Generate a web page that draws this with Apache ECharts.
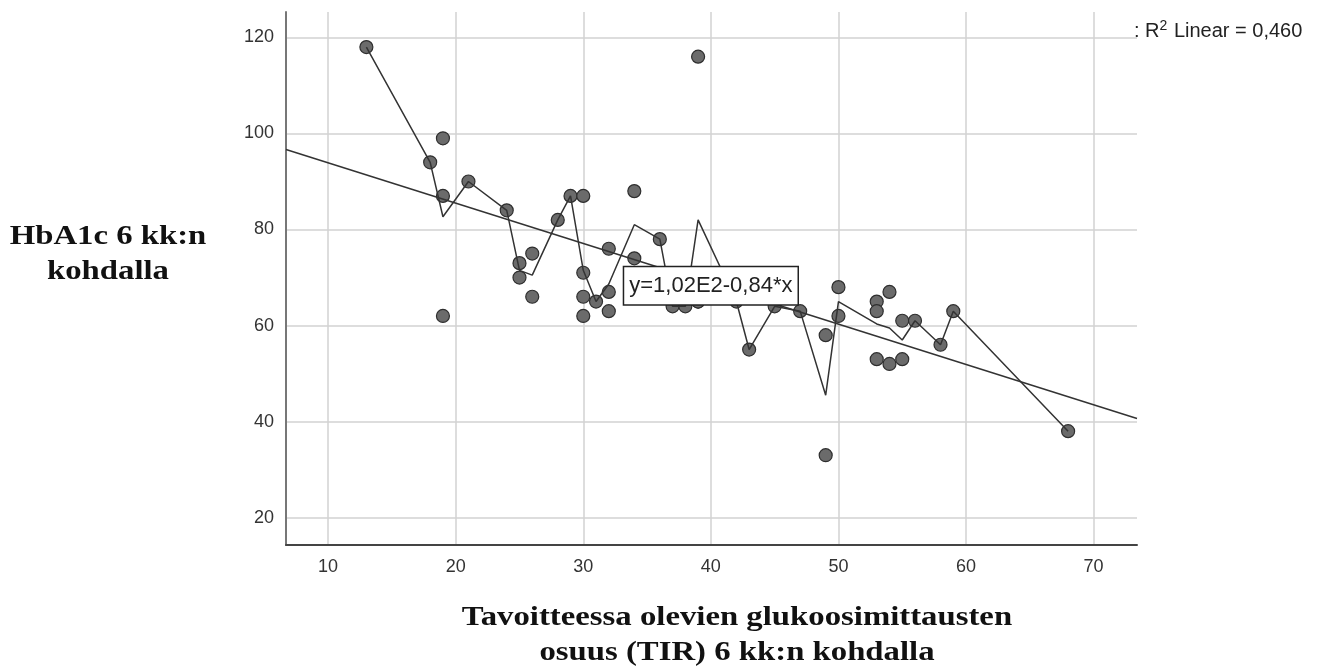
<!DOCTYPE html>
<html>
<head>
<meta charset="utf-8">
<script src="https://cdn.jsdelivr.net/npm/echarts@6/dist/echarts.min.js"></script>
<style>
html,body{margin:0;padding:0;background:#fff;}
#c{width:1318px;height:672px;}
</style>
</head>
<body>
<div id="c"></div>
<script>
// TIR (%) values and HbA1c values at 6 months
const tirValues = [13,18,19,19,19,21,24,25,25,26,26,28,29,30,30,30,30,31,32,32,32,34,34,36,37,38,39,39,39,42,43,45,47,49,49,50,50,53,53,53,54,54,55,55,56,58,59,68];
const hba1cValues = [118,94,99,87,62,90,84,73,70,75,66,82,87,87,71,66,62,65,76,67,63,88,74,78,64,64,116,65,65,65,55,64,63,58,33,68,62,65,63,53,67,52,61,53,61,56,63,38];
const fitIntercept = 102.3;
const fitSlope = -0.84;
const fitLabel = 'y=1,02E2-0,84*x';
const r2Text = '0,460';
const xAxisTitleLines = ['Tavoitteessa olevien glukoosimittausten', 'osuus (TIR) 6 kk:n kohdalla'];
const yAxisTitleLines = ['HbA1c 6 kk:n', 'kohdalla'];
const xRange = [6.7, 73.4];
const yRange = [14.3, 125.3];

const points = tirValues.map((x, i) => [x, hba1cValues[i]]);
// mean of y at each x (connecting line)
const groups = {};
points.forEach(([x, y]) => { (groups[x] = groups[x] || []).push(y); });
const meanLine = Object.keys(groups).map(Number).sort((a, b) => a - b)
  .map(x => [x, groups[x].reduce((s, v) => s + v, 0) / groups[x].length]);
const fitLine = xRange.map(x => [x, fitIntercept + fitSlope * x]);

const titleFont = 'bold 28px "Liberation Serif"';
function titleText(str, x, y, sx) {
  return { type: 'text', x: x, y: y, scaleX: sx, silent: true,
    style: { text: str, font: titleFont, fill: '#111', align: 'center', verticalAlign: 'middle' } };
}

const chart = echarts.init(document.getElementById('c'));
chart.setOption({
  animation: false,
  backgroundColor: '#ffffff',
  grid: { left: 286, right: 181, top: 12, bottom: 127, containLabel: false },
  graphic: [
    titleText(yAxisTitleLines[0], 108, 237, 1.17),
    titleText(yAxisTitleLines[1], 108, 272, 1.17),
    titleText(xAxisTitleLines[0], 737, 618, 1.17),
    titleText(xAxisTitleLines[1], 737, 653, 1.17),
    { type: 'text', x: 1134, y: 31, silent: true,
      style: { text: ': R{sup|2} Linear = ' + r2Text, fill: '#222', verticalAlign: 'middle',
        font: '20px "Liberation Sans"',
        rich: { sup: { font: '14px "Liberation Sans"', fill: '#222', verticalAlign: 'top', padding: [0, 1, 10, 0] } } } }
  ],
  xAxis: {
    type: 'value', min: xRange[0], max: xRange[1],
    axisLine: { show: true, lineStyle: { color: '#444', width: 2 } },
    axisTick: { show: false },
    axisLabel: { margin: 13, fontFamily: 'Liberation Sans', fontSize: 18, color: '#333',
      formatter: v => (Math.abs(v % 10) < 1e-9 ? String(v) : '') },
    splitLine: { show: true, showMinLine: false, showMaxLine: false, lineStyle: { color: '#d2d2d2', width: 1.5 } }
  },
  yAxis: {
    type: 'value', min: yRange[0], max: yRange[1],
    axisLine: { show: true, lineStyle: { color: '#777', width: 2 } },
    axisTick: { show: false },
    axisLabel: { margin: 12, fontFamily: 'Liberation Sans', fontSize: 18, color: '#333',
      formatter: v => (Math.abs(v % 20) < 1e-9 ? String(v) : '') },
    splitLine: { show: true, showMinLine: false, showMaxLine: false, lineStyle: { color: '#d2d2d2', width: 1.5 } }
  },
  series: [
    {
      type: 'scatter', data: points, symbol: 'circle', symbolSize: 13, z: 2,
      itemStyle: { color: '#6b6b6b', borderColor: '#2e2e2e', borderWidth: 1.2, opacity: 1 }
    },
    {
      type: 'line', data: meanLine, showSymbol: false, symbol: 'none', z: 3,
      lineStyle: { color: '#333', width: 1.5 }
    },
    {
      type: 'line', data: fitLine, showSymbol: false, symbol: 'none', z: 3,
      lineStyle: { color: '#333', width: 1.5 },
      markPoint: {
        symbol: 'rect', symbolSize: 1, itemStyle: { color: 'rgba(0,0,0,0)' },
        data: [{ coord: [40.0, 68.3] }],
        label: { show: true, position: 'inside', formatter: fitLabel,
          fontFamily: 'Liberation Sans', fontSize: 22, lineHeight: 25, color: '#222',
          backgroundColor: '#fff', borderColor: '#222', borderWidth: 1.5, padding: [6, 5, 6, 5] },
        z: 10
      }
    }
  ]
});
</script>
</body>
</html>
